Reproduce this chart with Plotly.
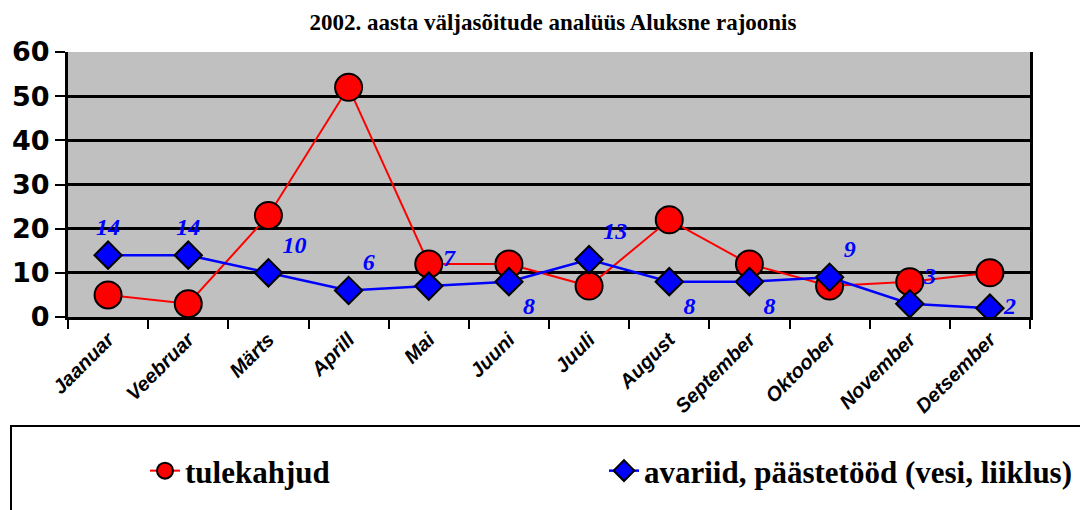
import plotly.graph_objects as go

months = ["Jaanuar", "Veebruar", "Märts", "Aprill", "Mai", "Juuni", "Juuli",
          "August", "September", "Oktoober", "November", "Detsember"]
tulekahjud = [5, 3, 23, 52, 12, 12, 7, 22, 12, 7, 8, 10]
avariid = [14, 14, 10, 6, 7, 8, 13, 8, 8, 9, 3, 2]
avariid_label_pos = ["top center", "top center", "top right", "top right", "top right",
                     "bottom right", "top right", "bottom right", "bottom right",
                     "top right", "top right", "middle right"]
y_ticks = [0, 10, 20, 30, 40, 50, 60]

OFF = 8  # page body margin
W, H = 1088 - OFF, 510 - OFF
# plot area in screen px: x 68..1030, y 52..317
L, T = 68 - OFF, 52 - OFF
R = W - (1030 - OFF)
B = H - (317 - OFF)
pw, ph = W - L - R, H - T - B

def px_x(px):
    return (px - OFF - L) / pw

def px_y(py):
    return (H - B - (py - OFF)) / ph

fig = go.Figure()
fig.add_trace(go.Scatter(
    x=months, y=tulekahjud, name="tulekahjud", mode="lines+markers",
    line=dict(color="#FF0000", width=2),
    marker=dict(symbol="circle", size=27, color="#FF0000",
                line=dict(color="black", width=2)),
    legend="legend",
))
fig.add_trace(go.Scatter(
    x=months, y=avariid, name="avariid, päästetööd (vesi, liiklus)",
    mode="lines+markers+text",
    text=[str(v) for v in avariid], textposition=avariid_label_pos,
    textfont=dict(family="Liberation Serif", size=24, color="#0000FF",
                  weight="bold", style="italic"),
    line=dict(color="#0000FF", width=2.5),
    marker=dict(symbol="diamond", size=21, color="#0000FF",
                line=dict(color="black", width=2)),
    legend="legend2",
))

legend_font = dict(family="Liberation Serif", size=31, color="black", weight="bold")

fig.update_layout(
    width=W, height=H,
    margin=dict(l=L, r=R, t=T, b=B, autoexpand=False),
    paper_bgcolor="white", plot_bgcolor="#C0C0C0",
    title=dict(text="2002. aasta väljasõitude analüüs Aluksne rajoonis",
               x=(553 - OFF) / W, xanchor="center", y=1 - (22 - OFF) / H,
               yanchor="middle",
               font=dict(family="Liberation Serif", size=23, color="black",
                         weight="bold")),
    showlegend=True,
    legend=dict(orientation="h", x=px_x(145), xanchor="left",
                y=px_y(471), yanchor="middle", font=legend_font,
                bgcolor="rgba(0,0,0,0)", borderwidth=0),
    legend2=dict(orientation="h", x=px_x(604), xanchor="left",
                 y=px_y(471), yanchor="middle", font=legend_font,
                 bgcolor="rgba(0,0,0,0)", borderwidth=0),
    shapes=[dict(type="rect", xref="paper", yref="paper",
                 x0=px_x(11), x1=px_x(1110), y0=px_y(426), y1=px_y(530),
                 line=dict(color="black", width=2), fillcolor="rgba(0,0,0,0)")],
)

fig.update_xaxes(
    type="category", range=[-0.5, len(months) - 0.5],
    tickson="boundaries", ticks="outside", ticklen=9,
    tickwidth=2, tickcolor="black", showline=True, linecolor="black",
    linewidth=3, showgrid=False, tickangle=-45, automargin=False,
    tickfont=dict(family="Liberation Sans", size=20, color="black",
                  weight="bold", style="italic"),
)
fig.update_yaxes(
    range=[0, 60], tickvals=y_ticks, ticks="outside", ticklen=10, tickwidth=2,
    tickcolor="black", showline=True, linecolor="black", linewidth=3,
    mirror=True, showgrid=True, gridcolor="black", gridwidth=2.5,
    zeroline=False, automargin=False,
    tickfont=dict(family="DejaVu Sans", size=27, color="black", weight="bold"),
)

fig.write_html("out.html")
